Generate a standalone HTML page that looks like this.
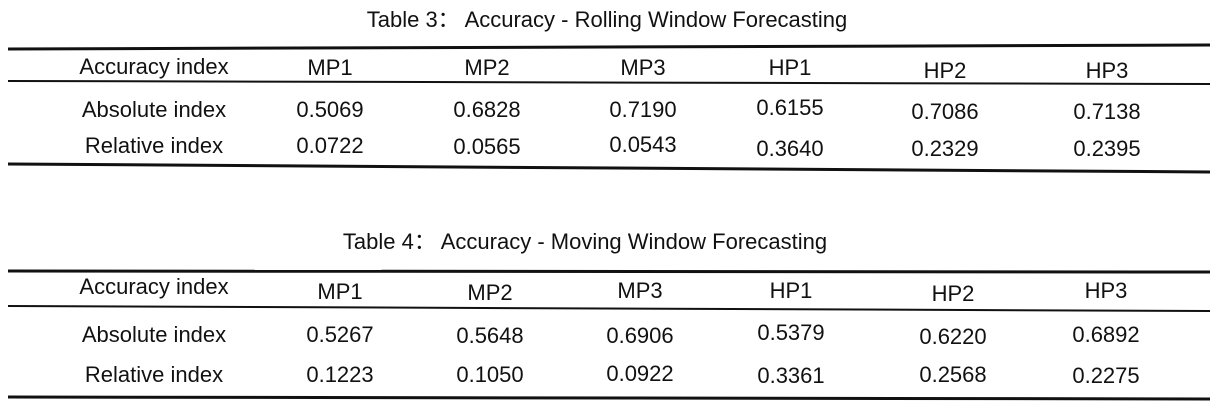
<!DOCTYPE html>
<html><head><meta charset="utf-8"><style>
html,body{margin:0;padding:0;background:#fff;}
svg text{font-family:"Liberation Sans","Noto Sans CJK SC",sans-serif;font-size:22px;fill:#111;}
</style></head><body>
<svg width="1218" height="408" viewBox="0 0 1218 408">
<g>
<text x="607" y="27" text-anchor="middle">Table 3：  Accuracy - Rolling Window Forecasting</text>
<line x1="8" y1="49" x2="1210" y2="45" stroke="#111" stroke-width="3"/>
<line x1="8" y1="81" x2="1210" y2="84" stroke="#111" stroke-width="2"/>
<line x1="8" y1="164" x2="1210" y2="172" stroke="#111" stroke-width="3"/>
<g>
<text x="154" y="74" text-anchor="middle">Accuracy index</text>
<text x="330" y="75" text-anchor="middle">MP1</text>
<text x="487" y="75" text-anchor="middle">MP2</text>
<text x="643" y="75" text-anchor="middle">MP3</text>
<text x="790" y="75" text-anchor="middle">HP1</text>
<text x="945" y="78" text-anchor="middle">HP2</text>
<text x="1107" y="78" text-anchor="middle">HP3</text>
</g>
<g>
<text x="154" y="117" text-anchor="middle">Absolute index</text>
<text x="330" y="117" text-anchor="middle">0.5069</text>
<text x="487" y="117" text-anchor="middle">0.6828</text>
<text x="643" y="117" text-anchor="middle">0.7190</text>
<text x="790" y="115" text-anchor="middle">0.6155</text>
<text x="945" y="119" text-anchor="middle">0.7086</text>
<text x="1107" y="119" text-anchor="middle">0.7138</text>
</g>
<g>
<text x="154" y="153" text-anchor="middle">Relative index</text>
<text x="330" y="153" text-anchor="middle">0.0722</text>
<text x="487" y="154" text-anchor="middle">0.0565</text>
<text x="643" y="152" text-anchor="middle">0.0543</text>
<text x="790" y="156" text-anchor="middle">0.3640</text>
<text x="945" y="156" text-anchor="middle">0.2329</text>
<text x="1107" y="156" text-anchor="middle">0.2395</text>
</g>
</g>
<g>
<text x="585" y="249" text-anchor="middle">Table 4：  Accuracy - Moving Window Forecasting</text>
<line x1="8" y1="271" x2="1210" y2="272" stroke="#111" stroke-width="3"/>
<line x1="8" y1="306" x2="1210" y2="311" stroke="#111" stroke-width="2"/>
<line x1="8" y1="397" x2="1210" y2="399" stroke="#111" stroke-width="3"/>
<g>
<text x="154" y="294" text-anchor="middle">Accuracy index</text>
<text x="340" y="299" text-anchor="middle">MP1</text>
<text x="490" y="300" text-anchor="middle">MP2</text>
<text x="640" y="298" text-anchor="middle">MP3</text>
<text x="791" y="298" text-anchor="middle">HP1</text>
<text x="953" y="301" text-anchor="middle">HP2</text>
<text x="1106" y="298" text-anchor="middle">HP3</text>
</g>
<g>
<text x="154" y="342" text-anchor="middle">Absolute index</text>
<text x="340" y="342" text-anchor="middle">0.5267</text>
<text x="490" y="343" text-anchor="middle">0.5648</text>
<text x="640" y="343" text-anchor="middle">0.6906</text>
<text x="791" y="340" text-anchor="middle">0.5379</text>
<text x="953" y="344" text-anchor="middle">0.6220</text>
<text x="1106" y="342" text-anchor="middle">0.6892</text>
</g>
<g>
<text x="154" y="382" text-anchor="middle">Relative index</text>
<text x="340" y="382" text-anchor="middle">0.1223</text>
<text x="490" y="382" text-anchor="middle">0.1050</text>
<text x="640" y="381" text-anchor="middle">0.0922</text>
<text x="791" y="383" text-anchor="middle">0.3361</text>
<text x="953" y="382" text-anchor="middle">0.2568</text>
<text x="1106" y="383" text-anchor="middle">0.2275</text>
</g>
</g>
</svg>
</body></html>
